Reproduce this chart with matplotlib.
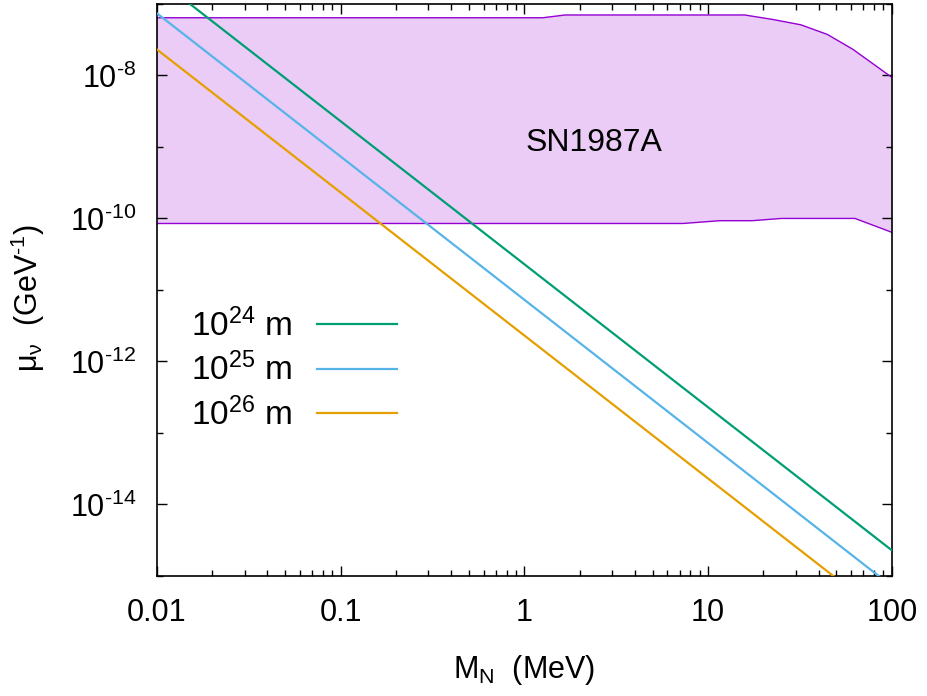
import matplotlib
matplotlib.use('Agg')
import matplotlib.pyplot as plt
from matplotlib.ticker import LogLocator, FixedLocator, NullFormatter

plt.rcParams['font.family'] = ['Liberation Sans', 'DejaVu Sans']
plt.rcParams['mathtext.fontset'] = 'custom'
plt.rcParams['mathtext.rm'] = 'Liberation Sans'
plt.rcParams['mathtext.it'] = 'Liberation Sans'
plt.rcParams['mathtext.default'] = 'rm'

# SN1987A band (MeV, GeV^-1)
sn_up_x = [0.01, 1.26, 1.67, 15.8, 22.4, 32.0, 44.6, 61.5, 100.0]
sn_up_y = [6.4e-8, 6.4e-8, 7.0e-8, 7.0e-8, 6.07e-8, 5.1e-8, 3.74e-8, 2.31e-8, 9.4e-9]
sn_lo_x = [0.01, 7.3, 11.6, 17.4, 25.0, 63.0, 100.0]
sn_lo_y = [8.5e-11, 8.5e-11, 9.3e-11, 9.3e-11, 1.0e-10, 1.0e-10, 6.4e-11]

# distance lines, end points at M = 0.01 and 100 MeV
m_ends = [0.01, 100.0]
mu_24 = [2.29e-7, 2.29e-15]
mu_25 = [7.4e-8, 7.2e-16]
mu_26 = [2.31e-8, 2.31e-16]

x_ticks = [0.01, 0.1, 1, 10, 100]
x_labels = ['0.01', '0.1', '1', '10', '100']
y_ticks = [1e-14, 1e-12, 1e-10, 1e-8]
y_labels = ['$10^{\u201014}$', '$10^{\u201012}$', '$10^{\u201010}$', '$10^{\u20108}$']

fig = plt.figure(figsize=(9.28, 6.96), dpi=100)
ax = fig.add_axes([0.169, 0.1724, 0.792, 0.822])

ax.fill(sn_up_x + sn_lo_x[::-1], sn_up_y + sn_lo_y[::-1],
        facecolor='#eaccf6', edgecolor='none', zorder=1)
ax.plot(sn_up_x, sn_up_y, color='#9400d3', lw=1.0, zorder=2)
ax.plot(sn_lo_x, sn_lo_y, color='#9400d3', lw=1.0, zorder=2)

l1, = ax.plot(m_ends, mu_24, color='#009e73', lw=1.6, label='$10^{24}$ m', zorder=3)
l2, = ax.plot(m_ends, mu_25, color='#56b4e9', lw=1.6, label='$10^{25}$ m', zorder=3)
l3, = ax.plot(m_ends, mu_26, color='#e69f00', lw=1.6, label='$10^{26}$ m', zorder=3)

ax.set_xscale('log')
ax.set_yscale('log')
ax.set_xlim(0.01, 100)
ax.set_ylim(1e-15, 1e-7)

ax.set_xticks(x_ticks)
ax.set_xticklabels(x_labels)
ax.xaxis.set_minor_locator(LogLocator(base=10, subs=range(2, 10), numticks=20))
ax.xaxis.set_minor_formatter(NullFormatter())

ax.yaxis.set_major_locator(FixedLocator(y_ticks))
ax.set_yticklabels(y_labels)
ax.yaxis.set_minor_locator(FixedLocator([1e-15, 1e-13, 1e-11, 1e-9, 1e-7]))
ax.yaxis.set_minor_formatter(NullFormatter())

ax.tick_params(which='both', direction='in', top=True, right=True, labelsize=22, width=1)
ax.tick_params(axis='x', which='major', length=7, pad=16)
ax.tick_params(axis='y', which='major', length=7, pad=15)
ax.tick_params(which='minor', length=4)
for s in ax.spines.values():
    s.set_linewidth(1.2)

ax.set_xlabel('$M_N$  (MeV)', fontsize=22, labelpad=18)
ax.set_ylabel('$\\mu_\\nu$  (GeV$^{\u20101}$)', fontsize=22)
ax.yaxis.set_label_coords(-0.149, 0.486)

ax.text(2.39, 1.15e-9, 'SN1987A', fontsize=23, ha='center', va='center', zorder=4)

ax.legend(handles=[l1, l2, l3], loc='upper left', bbox_to_anchor=(0.024, 0.497),
          markerfirst=False, frameon=False, fontsize=24, handlelength=2.4,
          handletextpad=0.75, labelspacing=0.3, borderpad=0)

fig.savefig('out.png', dpi=100)
